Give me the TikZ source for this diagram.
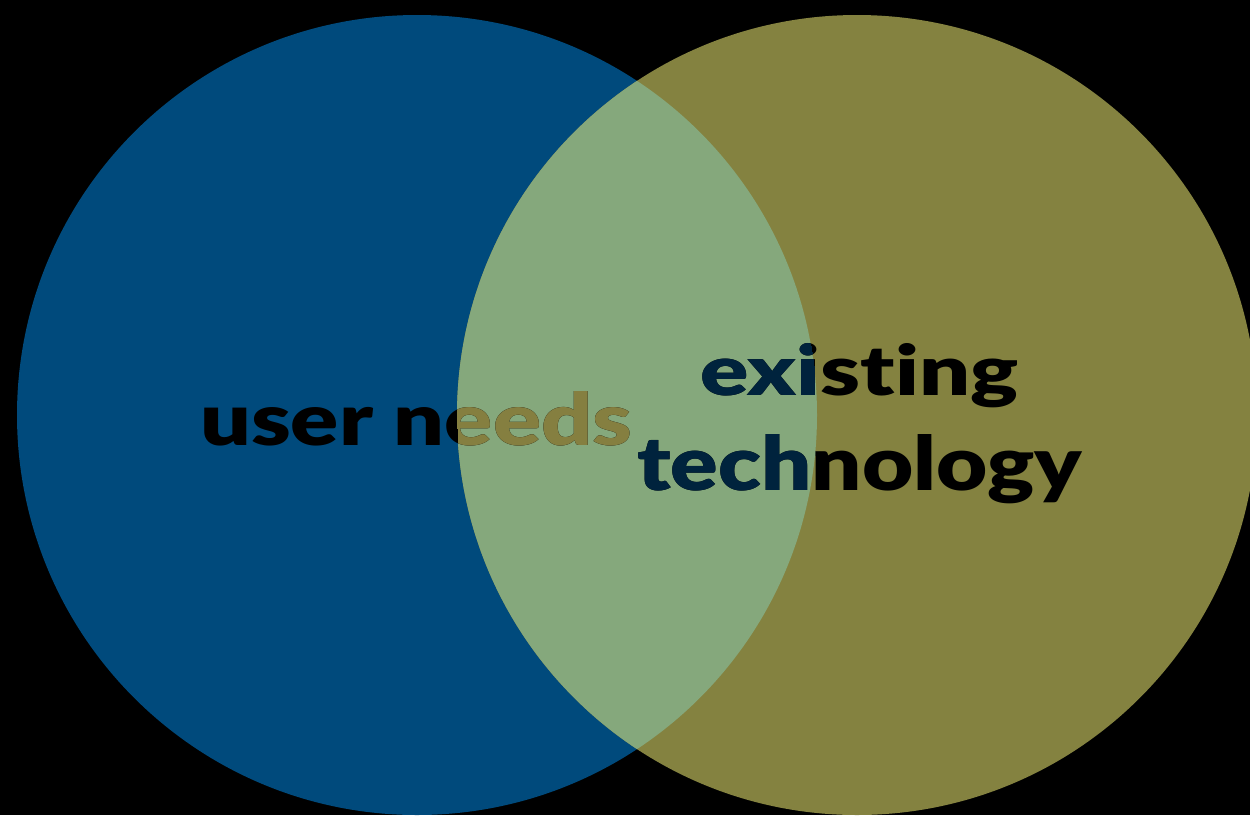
\documentclass[tikz,border=0pt]{standalone}
\usepackage{fontspec}
\newfontfamily\vennfont{Lato Black}[Ligatures=NoCommon]
\definecolor{needsblue}{HTML}{004A7C}
\definecolor{techolive}{HTML}{848240}
\definecolor{overlapgreen}{HTML}{85A87C}
\definecolor{deepnavy}{HTML}{00233D}
\definecolor{textolive}{HTML}{857F40}
\tikzset{
  vennlabel/.style={inner sep=0pt, anchor=base west, font=\vennfont},
}
\newcommand{\needsText}{\resizebox{432pt}{54pt}{user needs}}
\newcommand{\existText}{\resizebox{318pt}{52pt}{existing}}
\newcommand{\techText}{\resizebox{445pt}{56pt}{technology}}
\begin{document}
\begin{tikzpicture}[x=1pt,y=-1pt]
  % canvas
  \fill[black] (0,0) rectangle (1250,815);
  \useasboundingbox (0,0) rectangle (1250,815);
  % the two sets
  \fill[needsblue] (417,415) circle[radius=400];
  \fill[techolive] (857,415) circle[radius=400];
  % their intersection
  \begin{scope}
    \clip (417,415) circle[radius=400];
    \fill[overlapgreen] (857,415) circle[radius=400];
  \end{scope}
  % labels
  \node[vennlabel, text=black] (needs) at (200,445) {\needsText};
  \node[vennlabel, text=black] (exist) at (700,395) {\existText};
  \node[vennlabel, text=black] (tech) at (637,490) {\techText};
  % label parts lying inside the other set
  \begin{scope}
    \clip (857,415) circle[radius=400];
    \node[vennlabel, text=textolive] (needsB) at (200,445) {\needsText};
  \end{scope}
  \begin{scope}
    \clip (417,415) circle[radius=400];
    \node[vennlabel, text=deepnavy] (existB) at (700,395) {\existText};
    \node[vennlabel, text=deepnavy] (techB) at (637,490) {\techText};
  \end{scope}
\end{tikzpicture}
\end{document}
